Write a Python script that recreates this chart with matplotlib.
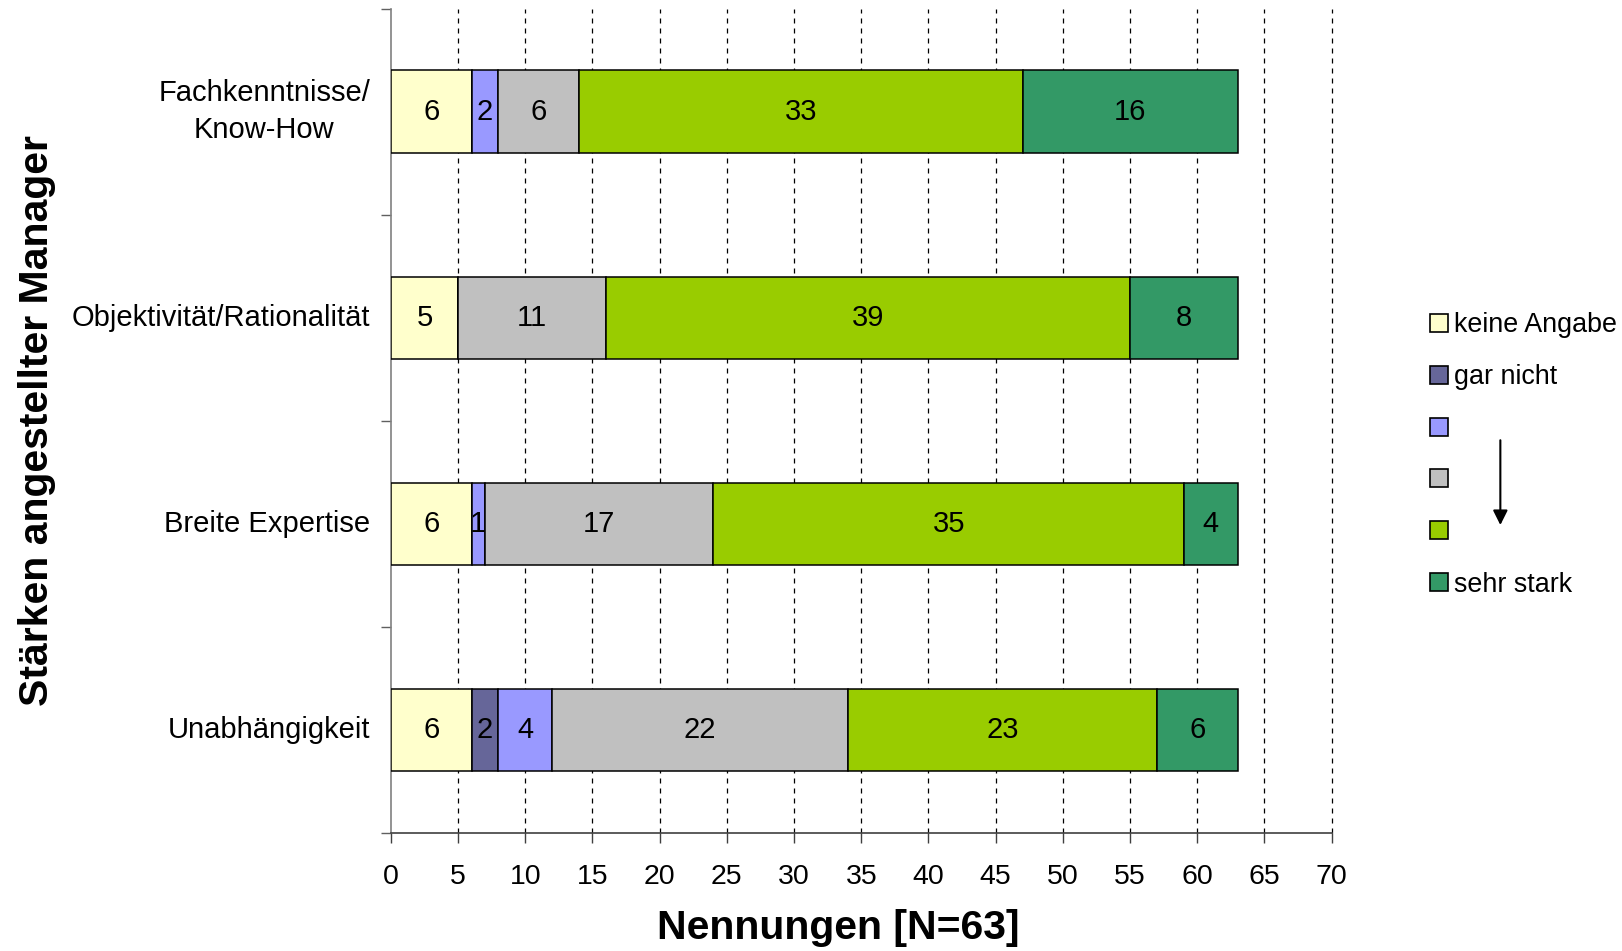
import matplotlib
matplotlib.use("Agg")
import matplotlib.pyplot as plt
from matplotlib.patches import Patch
import numpy as np

plt.rcParams["font.family"] = ["Liberation Sans", "DejaVu Sans"]

categories = ["Fachkenntnisse/\nKnow-How", "Objektivität/Rationalität", "Breite Expertise", "Unabhängigkeit"]
series_names = ["keine Angabe", "gar nicht", "", "", "", "sehr stark"]
keine_angabe = [6, 5, 6, 6]
gar_nicht = [0, 0, 0, 2]
stufe_2 = [2, 0, 1, 4]
stufe_3 = [6, 11, 17, 22]
stufe_4 = [33, 39, 35, 23]
sehr_stark = [16, 8, 4, 6]
x_ticks = list(range(0, 75, 5))

colors = ["#FFFFCC", "#666699", "#9999FF", "#C0C0C0", "#99CC00", "#339966"]
series = [keine_angabe, gar_nicht, stufe_2, stufe_3, stufe_4, sehr_stark]

fig = plt.figure(figsize=(16.22, 9.51), dpi=100)
ax = fig.add_axes([0.241, 0.124, 0.580, 0.867])

y = np.arange(len(categories))
left = np.zeros(len(categories))
for vals, color in zip(series, colors):
    vals = np.asarray(vals, dtype=float)
    ax.barh(y, vals, left=left, height=0.4, color=color, edgecolor="black",
            linewidth=1.1, zorder=3)
    for yi, (l, v) in enumerate(zip(left, vals)):
        if v > 0:
            ax.text(l + v / 2, yi, f"{int(v)}", ha="center", va="center",
                    fontsize=21, color="black", zorder=4)
    left += vals

ax.set_xlim(0, 70)
ax.set_ylim(3.5, -0.5)
ax.set_xticks(x_ticks)
ax.set_xticklabels([str(t) for t in x_ticks], fontsize=20.5)
ax.tick_params(axis="x", direction="out", length=7, width=1, color="#404040", pad=15)

# category boundaries as major ticks, labels on minor ticks
ax.set_yticks(np.arange(-0.5, len(categories), 1.0))
ax.set_yticklabels([])
ax.set_yticks(y, minor=True)
ax.set_yticklabels(categories, minor=True, fontsize=21, ha="right", va="center",
                   multialignment="center", linespacing=1.4)
ax.tick_params(axis="y", which="major", direction="out", length=7, width=1, color="#606060")
ax.tick_params(axis="y", which="minor", length=0, pad=15)

for xv in x_ticks[1:]:
    ax.axvline(xv, color="black", linestyle=(0, (4, 4)), linewidth=0.9, zorder=1,
               clip_on=False)

for side in ("top", "right"):
    ax.spines[side].set_visible(False)
ax.spines["left"].set_color("#808080")
ax.spines["bottom"].set_color("#404040")
ax.spines["left"].set_linewidth(1.2)
ax.spines["bottom"].set_linewidth(1.2)

fig.text(0.517, 0.024, "Nennungen [N=63]", fontsize=29.5, fontweight="bold",
         ha="center", va="center")
fig.text(0.023, 0.558, "Stärken angestellter Manager", rotation=90, fontsize=29.5,
         fontweight="bold", ha="center", va="center")

handles = [Patch(facecolor=c, edgecolor="black", linewidth=1.2) for c in colors]
fig.legend(handles, series_names, loc="upper left", bbox_to_anchor=(0.875, 0.683),
           frameon=False, fontsize=19.4, handlelength=0.65, handleheight=0.65,
           handletextpad=0.25, labelspacing=0.96, borderaxespad=0)

ax.annotate("", xy=(0.925, 0.445), xycoords="figure fraction",
            xytext=(0.925, 0.540), textcoords="figure fraction",
            arrowprops=dict(arrowstyle="-|>", color="black", lw=1.5, mutation_scale=22))

fig.savefig("out.png", dpi=100, facecolor="white")
